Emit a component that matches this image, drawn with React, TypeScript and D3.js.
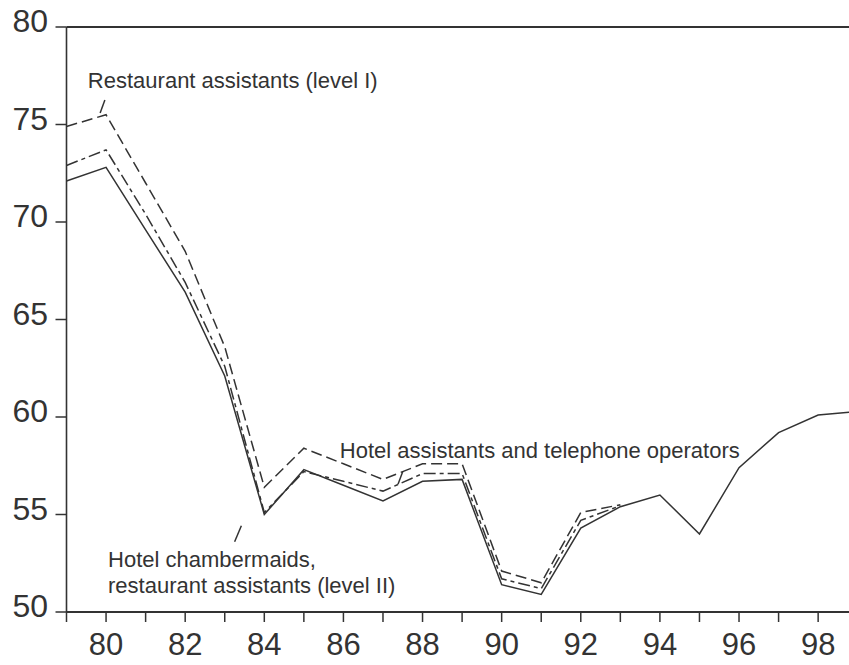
import React, { useEffect, useRef } from "react";
import * as d3 from "d3";

// years on the x axis
const years = [79, 80, 81, 82, 83, 84, 85, 86, 87, 88, 89, 90, 91, 92, 93, 94, 95, 96, 97, 98, 98.8];

// Hotel chambermaids, restaurant assistants (level II) - solid, full period
const chambermaids = [72.1, 72.8, 69.6, 66.4, 62.1, 55.0, 57.3, 56.5, 55.7, 56.7, 56.8, 51.4, 50.9, 54.3, 55.4, 56.0, 54.0, 57.4, 59.2, 60.1, 60.25];
// Restaurant assistants (level I) - long dash, until 93
const restaurantI = [74.9, 75.5, 72.0, 68.5, 63.6, 56.4, 58.4, 57.6, 56.8, 57.6, 57.6, 52.1, 51.5, 55.1, 55.5];
// Hotel assistants and telephone operators - dash-dot, until 93
const hotelAssist = [72.9, 73.7, 70.4, 66.9, 62.6, 55.1, 57.2, 56.7, 56.2, 57.1, 57.1, 51.7, 51.2, 54.7, 55.45];

const yTicks = [50, 55, 60, 65, 70, 75, 80];
const xTicks = d3.range(79, 99);
const xLabels = [80, 82, 84, 86, 88, 90, 92, 94, 96, 98];

const W = 849;
const H = 665;
const INK = "#333";

const App = () => {
  const ref = useRef<SVGSVGElement>(null);

  useEffect(() => {
    const svg = d3.select(ref.current);
    svg.selectAll("*").remove();

    const x = d3.scaleLinear().domain([79, 98.78]).range([66.5, 849]);
    const y = d3.scaleLinear().domain([50, 80]).range([612, 27]);

    const g = svg.append("g");

    // frame: top line, left axis, bottom axis
    g.append("line").attr("x1", x(79)).attr("x2", W).attr("y1", y(80)).attr("y2", y(80))
      .attr("stroke", INK).attr("stroke-width", 2);
    g.append("line").attr("x1", x(79)).attr("x2", x(79)).attr("y1", y(80)).attr("y2", y(50))
      .attr("stroke", INK).attr("stroke-width", 1.6);
    g.append("line").attr("x1", x(79)).attr("x2", W).attr("y1", y(50)).attr("y2", y(50))
      .attr("stroke", INK).attr("stroke-width", 1.8);

    // y ticks
    g.selectAll(".yt").data(yTicks).enter().append("line")
      .attr("x1", x(79) - 11).attr("x2", x(79))
      .attr("y1", d => y(d)).attr("y2", d => y(d))
      .attr("stroke", INK).attr("stroke-width", 1.5);
    g.selectAll(".yl").data(yTicks).enter().append("text")
      .attr("x", 48).attr("y", d => y(d) + 5)
      .attr("text-anchor", "end")
      .attr("font-family", "Liberation Sans, Arial, sans-serif")
      .attr("font-size", 32).attr("fill", INK)
      .text(d => d);

    // x ticks
    g.selectAll(".xt").data(xTicks).enter().append("line")
      .attr("x1", d => x(d)).attr("x2", d => x(d))
      .attr("y1", y(50)).attr("y2", y(50) + 10)
      .attr("stroke", INK).attr("stroke-width", 1.5);
    g.selectAll(".xl").data(xLabels).enter().append("text")
      .attr("x", d => x(d)).attr("y", 655)
      .attr("text-anchor", "middle")
      .attr("font-family", "Liberation Sans, Arial, sans-serif")
      .attr("font-size", 31).attr("fill", INK)
      .text(d => d);

    const line = d3.line<number>()
      .x((_, i) => x(years[i]))
      .y(d => y(d));

    g.append("path").attr("d", line(restaurantI)).attr("fill", "none")
      .attr("stroke", INK).attr("stroke-width", 1.5).attr("stroke-dasharray", "11,5");
    g.append("path").attr("d", line(hotelAssist)).attr("fill", "none")
      .attr("stroke", INK).attr("stroke-width", 1.5).attr("stroke-dasharray", "12,4,4,4");
    g.append("path").attr("d", line(chambermaids)).attr("fill", "none")
      .attr("stroke", INK).attr("stroke-width", 1.5);

    // annotations, placed in data units
    const labels = [
      { t: "Restaurant assistants (level I)", yr: 79.54, v: 76.87 },
      { t: "Hotel assistants and telephone operators", yr: 85.91, v: 57.92 },
      { t: "Hotel chambermaids,", yr: 80.05, v: 52.3 },
      { t: "restaurant assistants (level II)", yr: 80.05, v: 51.0 },
    ];
    g.selectAll(".ann").data(labels).enter().append("text")
      .attr("x", d => x(d.yr)).attr("y", d => y(d.v))
      .attr("font-family", "Liberation Sans, Arial, sans-serif")
      .attr("font-size", 22).attr("fill", INK)
      .text(d => d.t);

    // leader strokes
    const leaders = [
      [[79.85, 75.59], [79.97, 76.26]],
      [[83.25, 53.6], [83.42, 54.42]],
      [[87.38, 56.55], [87.5, 57.2]],
    ];
    g.selectAll(".ld").data(leaders).enter().append("line")
      .attr("x1", d => x(d[0][0])).attr("y1", d => y(d[0][1]))
      .attr("x2", d => x(d[1][0])).attr("y2", d => y(d[1][1]))
      .attr("stroke", INK).attr("stroke-width", 1.5);
  }, []);

  return <svg ref={ref} width={W} height={H} style={{ position: "absolute", left: 0, top: 0 }} />;
};

export default App;
